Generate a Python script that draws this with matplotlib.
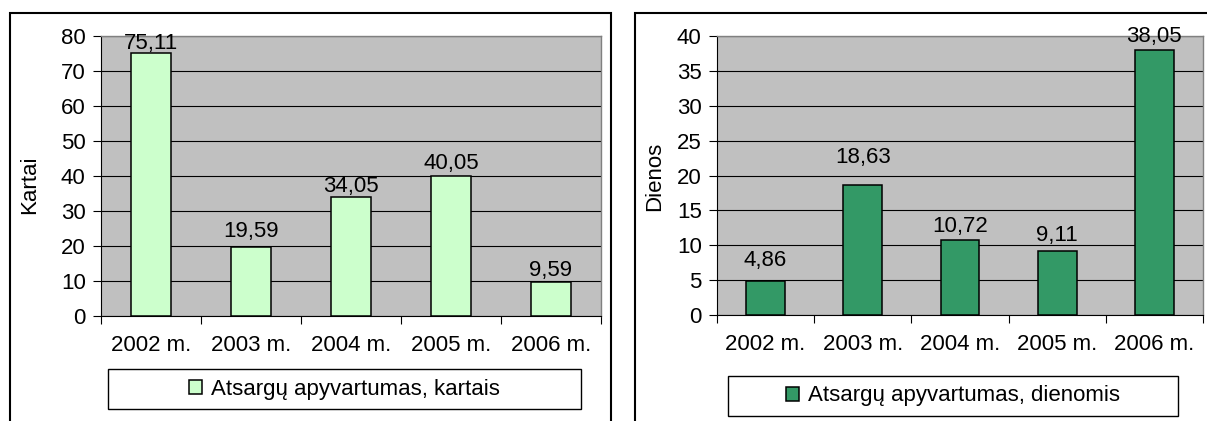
"""Two Excel-style bar charts: inventory turnover in times and in days."""

import matplotlib.pyplot as plt
from matplotlib.patches import Rectangle

years = ["2002 m.", "2003 m.", "2004 m.", "2005 m.", "2006 m."]
turnover_times = [75.11, 19.59, 34.05, 40.05, 9.59]
turnover_days = [4.86, 18.63, 10.72, 9.11, 38.05]

# gap (pixels) between bar top and label baseline, as laid out in the original
label_gap_times = [4, 10, 4.5, 6.5, 6]
label_gap_days = [15, 22, 8, 10, 8]

W, H = 1207, 421
plt.rcParams["font.family"] = ["Liberation Sans", "DejaVu Sans"]
plt.rcParams["font.size"] = 16

fig = plt.figure(figsize=(W / 100, H / 100), dpi=100)


def px_box(x0, y0, x1, y1):
    """Pixel box (top-left origin) to figure fraction [left, bottom, w, h]."""
    return [x0 / W, 1 - y1 / H, (x1 - x0) / W, (y1 - y0) / H]


def draw_panel(ax_box, values, gaps, color, ymax, ystep, ylabel, ylabel_xy,
               legend_label, legend_box):
    ax = fig.add_axes(px_box(*ax_box))
    x = range(len(values))
    bars = ax.bar(x, values, width=0.4, color=color, edgecolor="black",
                  linewidth=1.1, label=legend_label, zorder=3)
    for xi, v, gap in zip(x, values, gaps):
        ax.annotate(f"{v:.2f}".replace(".", ","), (xi, v),
                    xytext=(0, gap * 0.72), textcoords="offset points",
                    ha="center", va="baseline", zorder=4)

    ax.set_facecolor("#C0C0C0")
    ax.set_xlim(-0.5, len(values) - 0.5)
    ax.set_ylim(0, ymax)
    ax.set_yticks(range(0, ymax + 1, ystep))
    ax.yaxis.grid(True, color="black", linewidth=0.8)
    ax.set_axisbelow(True)

    ax.set_xticks(list(x))
    ax.set_xticklabels(years)
    ax.set_xticks([i - 0.5 for i in range(len(values) + 1)], minor=True)
    ax.tick_params(axis="x", which="major", length=0, pad=14)
    ax.tick_params(axis="x", which="minor", length=6, width=0.8,
                   direction="out")
    ax.tick_params(axis="y", length=6, width=0.8, direction="out", pad=5)

    for side in ("top", "right"):
        ax.spines[side].set_color("#808080")
        ax.spines[side].set_linewidth(1)
    for side in ("left", "bottom"):
        ax.spines[side].set_color("black")
        ax.spines[side].set_linewidth(0.8)

    fig.text(ylabel_xy[0] / W, 1 - ylabel_xy[1] / H, ylabel, rotation=90,
             ha="center", va="center")

    lx0, ly0, lx1, ly1 = legend_box
    fig.add_artist(Rectangle((lx0 / W, 1 - ly1 / H), (lx1 - lx0) / W,
                             (ly1 - ly0) / H, transform=fig.transFigure,
                             fill=False, edgecolor="black", linewidth=1))
    ax.legend(handles=[bars], loc="center",
              bbox_to_anchor=((lx0 + lx1) / 2 / W, 1 - (ly0 + ly1) / 2 / H),
              bbox_transform=fig.transFigure, frameon=False,
              handlelength=0.6, handleheight=0.6, handletextpad=0.4,
              borderpad=0)
    return ax


# panel borders
fig.add_artist(Rectangle((10 / W, -0.05), (611 - 10) / W, 1.05 - 13 / H,
                         transform=fig.transFigure, fill=False,
                         edgecolor="black", linewidth=1.5))
fig.add_artist(Rectangle((635 / W, -0.05), 1.0, 1.05 - 13 / H,
                         transform=fig.transFigure, fill=False,
                         edgecolor="black", linewidth=1.5))

draw_panel((101, 36, 601, 316), turnover_times, label_gap_times, "#CCFFCC",
           80, 10, "Kartai", (30, 185), "Atsargų apyvartumas, kartais",
           (108, 369, 581, 409))
draw_panel((717, 36, 1203, 315), turnover_days, label_gap_days, "#339966",
           40, 5, "Dienos", (655, 176), "Atsargų apyvartumas, dienomis",
           (728, 376, 1178, 416))

fig.savefig("out.png", dpi=100)
